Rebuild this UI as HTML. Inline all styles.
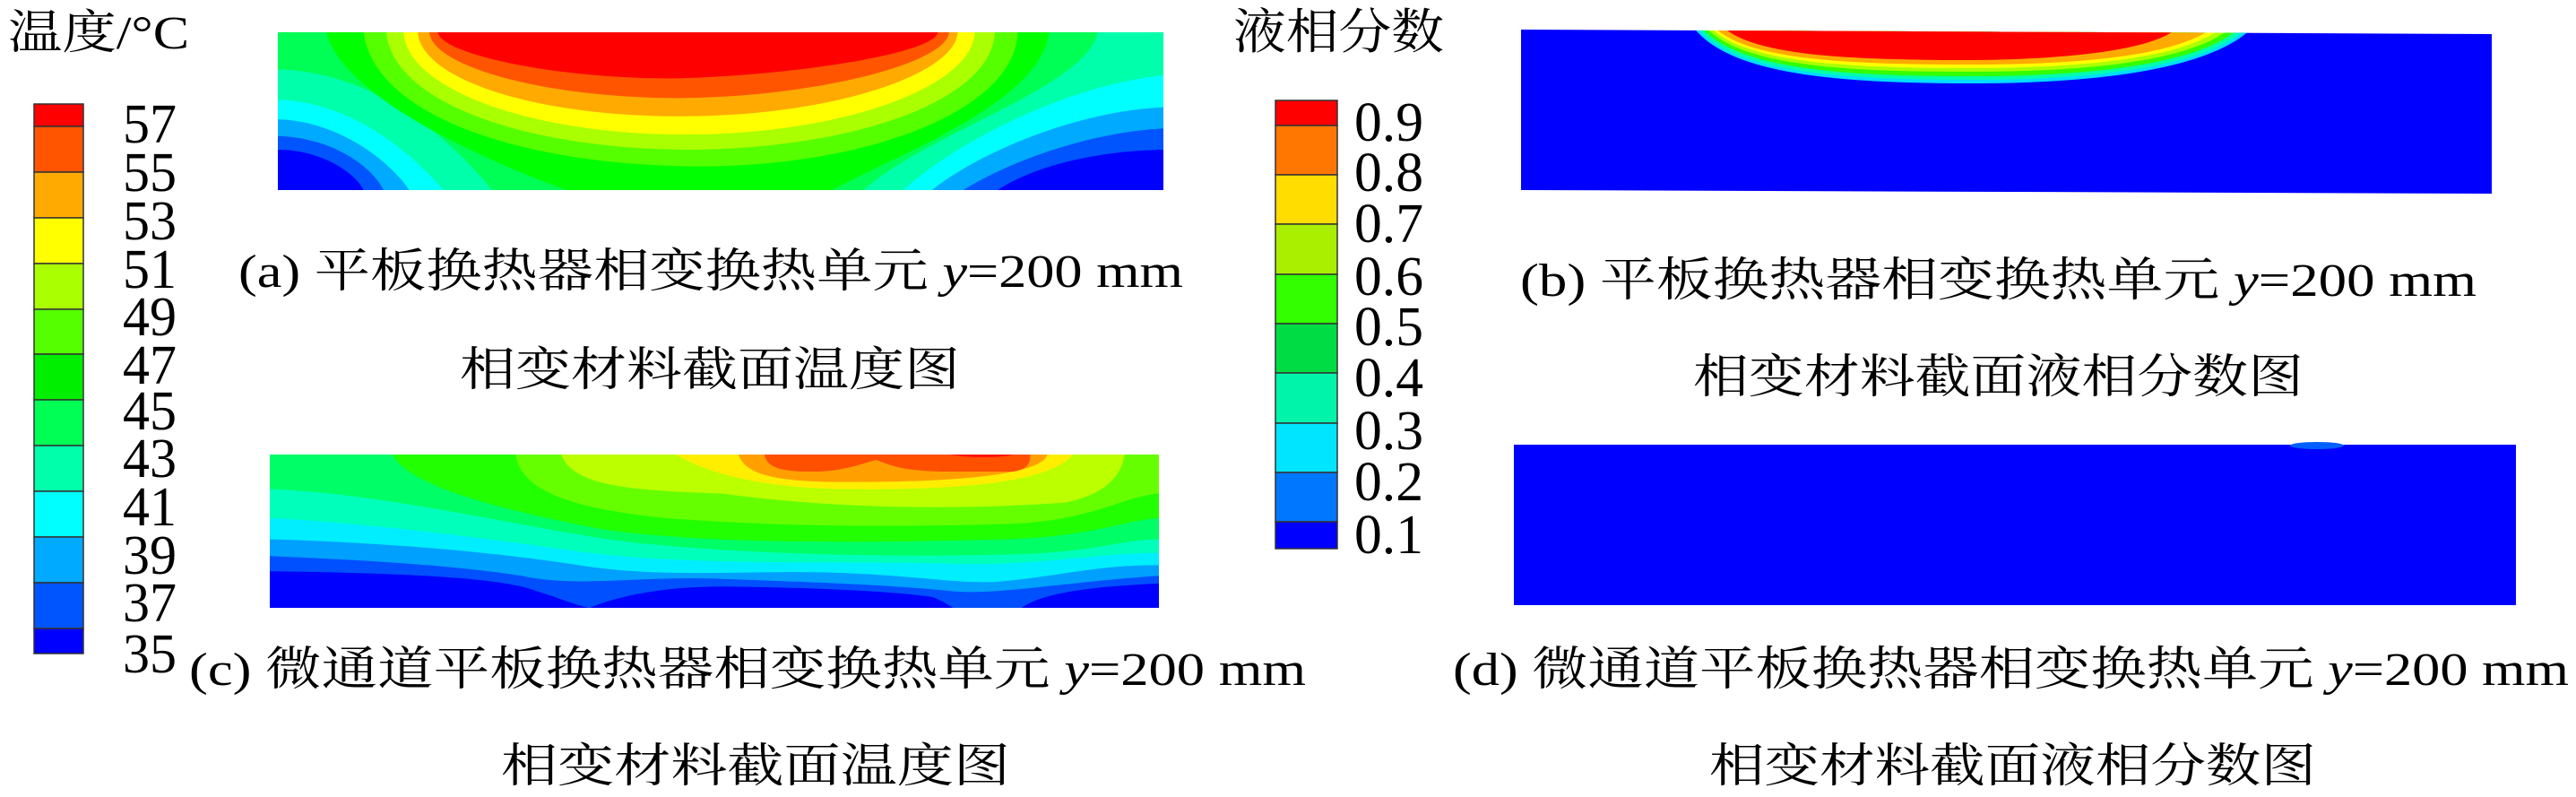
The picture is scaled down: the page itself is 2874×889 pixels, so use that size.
<!DOCTYPE html>
<html><head><meta charset="utf-8"><style>
html,body{margin:0;padding:0;background:#fff;}
</style></head><body>
<svg width="2874" height="884" viewBox="0 0 2874 884" xmlns="http://www.w3.org/2000/svg" font-family="'Liberation Serif', 'Times New Roman', 'Noto Serif CJK SC', serif">
<rect width="2874" height="884" fill="#fff"/>

<!-- Colorbar A -->
<g stroke="#333" stroke-width="1.5">
<rect x="38" y="116" width="55" height="25" fill="#ff0000"/>
<rect x="38" y="141" width="55" height="51" fill="#ff5500"/>
<rect x="38" y="192" width="55" height="51" fill="#ffaa00"/>
<rect x="38" y="243" width="55" height="51" fill="#ffff00"/>
<rect x="38" y="294" width="55" height="51" fill="#aaff00"/>
<rect x="38" y="345" width="55" height="50" fill="#55ff00"/>
<rect x="38" y="395" width="55" height="51" fill="#00ee00"/>
<rect x="38" y="446" width="55" height="51" fill="#00ff55"/>
<rect x="38" y="497" width="55" height="51" fill="#00ffaa"/>
<rect x="38" y="548" width="55" height="51" fill="#00ffff"/>
<rect x="38" y="599" width="55" height="51" fill="#00aaff"/>
<rect x="38" y="650" width="55" height="51" fill="#0055ff"/>
<rect x="38" y="701" width="55" height="28" fill="#0000ff"/>
</g>
<g font-size="62" font-family="Liberation Serif, serif">
<text x="137" y="159" textLength="60" lengthAdjust="spacingAndGlyphs">57</text>
<text x="137" y="213" textLength="60" lengthAdjust="spacingAndGlyphs">55</text>
<text x="137" y="267" textLength="60" lengthAdjust="spacingAndGlyphs">53</text>
<text x="137" y="321" textLength="60" lengthAdjust="spacingAndGlyphs">51</text>
<text x="137" y="374" textLength="60" lengthAdjust="spacingAndGlyphs">49</text>
<text x="137" y="428" textLength="60" lengthAdjust="spacingAndGlyphs">47</text>
<text x="137" y="479" textLength="60" lengthAdjust="spacingAndGlyphs">45</text>
<text x="137" y="532" textLength="60" lengthAdjust="spacingAndGlyphs">43</text>
<text x="137" y="586" textLength="60" lengthAdjust="spacingAndGlyphs">41</text>
<text x="137" y="640" textLength="60" lengthAdjust="spacingAndGlyphs">39</text>
<text x="137" y="693" textLength="60" lengthAdjust="spacingAndGlyphs">37</text>
<text x="137" y="750" textLength="60" lengthAdjust="spacingAndGlyphs">35</text>
</g>
<text x="9" y="54" font-size="52" textLength="202" lengthAdjust="spacingAndGlyphs">温度/°C</text>

<!-- Colorbar B -->
<g stroke="#333" stroke-width="1.5">
<rect x="1423" y="112" width="69" height="28" fill="#ff0000"/>
<rect x="1423" y="140" width="69" height="55" fill="#ff7700"/>
<rect x="1423" y="195" width="69" height="55" fill="#ffdd00"/>
<rect x="1423" y="250" width="69" height="56" fill="#aaee00"/>
<rect x="1423" y="306" width="69" height="55" fill="#33ff00"/>
<rect x="1423" y="361" width="69" height="55" fill="#00dd44"/>
<rect x="1423" y="416" width="69" height="56" fill="#00f5aa"/>
<rect x="1423" y="472" width="69" height="55" fill="#00e5ff"/>
<rect x="1423" y="527" width="69" height="55" fill="#0077ff"/>
<rect x="1423" y="582" width="69" height="30" fill="#0000ff"/>
</g>
<g font-size="62" font-family="Liberation Serif, serif">
<text x="1511" y="157" textLength="77" lengthAdjust="spacingAndGlyphs">0.9</text>
<text x="1511" y="213" textLength="77" lengthAdjust="spacingAndGlyphs">0.8</text>
<text x="1511" y="270" textLength="77" lengthAdjust="spacingAndGlyphs">0.7</text>
<text x="1511" y="329" textLength="77" lengthAdjust="spacingAndGlyphs">0.6</text>
<text x="1511" y="385" textLength="77" lengthAdjust="spacingAndGlyphs">0.5</text>
<text x="1511" y="442" textLength="77" lengthAdjust="spacingAndGlyphs">0.4</text>
<text x="1511" y="501" textLength="77" lengthAdjust="spacingAndGlyphs">0.3</text>
<text x="1511" y="558" textLength="77" lengthAdjust="spacingAndGlyphs">0.2</text>
<text x="1511" y="617" textLength="77" lengthAdjust="spacingAndGlyphs">0.1</text>
</g>
<text x="1376" y="54" font-size="54" textLength="235" lengthAdjust="spacingAndGlyphs">液相分数</text>

<!-- Panel A -->
<svg x="310" y="36" width="988" height="176" viewBox="15 18 1550 520" preserveAspectRatio="none">
<rect x="15" y="18" width="1550" height="520" fill="#00ffaa"/>
<path d="M15,140 C200,150 330,400 390,538 L1040,538 C1150,350 1430,200 1450,18 L15,18 Z" fill="#00ff55"/>
<path d="M15,240 C150,250 250,420 305,538 L15,538Z" fill="#00ffff"/>
<path d="M15,305 C120,310 210,440 245,538 L15,538Z" fill="#00aaff"/>
<path d="M15,360 C110,365 180,460 200,538 L15,538Z" fill="#0055ff"/>
<path d="M15,405 C90,405 150,480 165,538 L15,538Z" fill="#0000ff"/>
<path d="M1565,160 C1400,190 1200,380 1110,538 L1565,538Z" fill="#00ffff"/>
<path d="M1565,265 C1400,280 1230,430 1160,538 L1565,538Z" fill="#00aaff"/>
<path d="M1565,335 C1420,350 1280,460 1215,538 L1565,538Z" fill="#0055ff"/>
<path d="M1565,405 C1420,410 1320,480 1275,538 L1565,538Z" fill="#0000ff"/>
<path d="M100,18 C130,250 420,470 520,538 L985,538 C1100,420 1350,250 1365,18 Z" fill="#00ff00"/>
<path d="M165,18 C185,300 450,460 760,460 C1060,455 1305,270 1310,18Z" fill="#55ff00"/>
<path d="M205,18 C215,250 450,405 740,405 C1030,400 1265,240 1270,18Z" fill="#aaff00"/>
<path d="M235,18 C240,200 450,355 730,355 C1000,355 1230,200 1235,18Z" fill="#ffff00"/>
<path d="M260,18 C265,170 460,295 720,295 C980,295 1200,160 1205,18Z" fill="#ffaa00"/>
<path d="M280,18 C285,130 480,235 720,235 C960,230 1185,120 1190,18Z" fill="#ff5500"/>
<path d="M295,18 C300,90 500,170 700,170 C900,165 1165,90 1170,18Z" fill="#ff0000"/>
</svg>

<!-- Panel C -->
<svg x="301" y="507" width="992" height="171" viewBox="10 22 1555 503" preserveAspectRatio="none">
<rect x="10" y="22" width="1555" height="503" fill="#66ff00"/>
<path d="M520,22 C540,130 650,140 800,150 C1000,200 1200,205 1400,180 C1480,150 1500,80 1505,22Z" fill="#bbff00"/>
<path d="M720,22 C780,90 880,130 1000,135 C1200,140 1370,120 1415,22Z" fill="#ffee00"/>
<path d="M830,22 C840,90 900,110 1000,112 C1200,115 1360,90 1370,22Z" fill="#ffa000"/>
<path d="M875,22 C880,70 910,78 960,78 C1010,78 1040,55 1070,40 C1100,60 1120,78 1200,78 L1310,78 C1340,70 1340,40 1340,22Z" fill="#ff5000"/>
<path d="M1200,22 C1230,34 1290,34 1310,22Z" fill="#ff1000"/>
<path d="M440,22 C450,150 550,200 700,230 C900,260 1100,260 1300,250 C1450,240 1500,160 1565,150 L1565,525 L10,525 L10,22Z" fill="#22ff00"/>
<path d="M225,22 C250,120 400,200 600,270 C800,320 1100,310 1300,300 C1450,290 1500,240 1565,230 L1565,525 L10,525 L10,22Z" fill="#00ff66"/>
<path d="M10,135 C200,150 400,240 600,300 C800,350 1100,360 1300,350 C1450,345 1500,300 1565,300 L1565,525 L10,525Z" fill="#00ffbb"/>
<path d="M10,230 C200,250 400,300 550,340 C750,390 1000,370 1200,380 C1350,390 1450,345 1565,345 L1565,525 L10,525Z" fill="#00eeff"/>
<path d="M10,300 C200,310 400,340 550,385 C700,430 850,400 1000,410 C1150,420 1200,445 1280,440 C1400,420 1450,385 1565,385 L1565,525 L10,525Z" fill="#00a0ff"/>
<path d="M10,355 C200,370 350,390 450,420 C550,460 650,420 800,430 C950,440 1100,450 1200,470 C1280,485 1400,440 1565,420 L1565,525 L10,525Z" fill="#0050ff"/>
<path d="M10,405 C200,410 380,420 460,460 C520,495 550,520 570,525 L10,525Z" fill="#0000ff"/>
<path d="M570,525 C600,500 680,455 800,455 C950,458 1100,470 1170,490 C1190,505 1200,520 1205,525Z" fill="#0000ff"/>
<path d="M1325,525 C1360,475 1450,455 1565,445 L1565,525Z" fill="#0000ff"/>
</svg>

<!-- Panel B -->
<defs><clipPath id="pb"><polygon points="1697,33 2780,38 2780,216 1697,212"/></clipPath></defs>
<polygon points="1697,33 2780,38 2780,216 1697,212" fill="#0000ff"/>
<g clip-path="url(#pb)">
<path d="M1889,30 C1930,85 2060,93 2200,93 C2350,93 2470,75 2514,30Z" fill="#00ddff"/>
<path d="M1893,30 C1934,82 2060,89 2200,89 C2350,89 2465,72 2508,30Z" fill="#00ffaa"/>
<path d="M1898,30 C1938,78 2060,85 2200,85 C2350,85 2460,68 2500,30Z" fill="#33ff00"/>
<path d="M1903,30 C1942,74 2060,80 2200,80 C2350,80 2452,64 2490,30Z" fill="#aaff00"/>
<path d="M1908,30 C1946,70 2060,76 2200,76 C2350,76 2444,60 2480,30Z" fill="#ffff00"/>
<path d="M1912,30 C1950,67 2060,72 2200,72 C2350,72 2436,57 2470,30Z" fill="#ffaa00"/>
<path d="M1922,30 C1958,62 2060,67 2200,67 C2330,66 2410,52 2430,30Z" fill="#ff0000"/>
</g>

<!-- Panel D -->
<rect x="1689" y="496" width="1118" height="179" fill="#0000ff"/>
<ellipse cx="2585" cy="497" rx="30" ry="4" fill="#0060ff"/>

<!-- Captions -->
<g font-size="52">
<text x="266" y="320" textLength="1054" lengthAdjust="spacingAndGlyphs">(a) 平板换热器相变换热单元 <tspan font-style="italic">y</tspan>=200 mm</text>
<text x="513" y="430" textLength="558" lengthAdjust="spacingAndGlyphs">相变材料截面温度图</text>
<text x="211" y="764" textLength="1246" lengthAdjust="spacingAndGlyphs">(c) 微通道平板换热器相变换热单元 <tspan font-style="italic">y</tspan>=200 mm</text>
<text x="559" y="872" textLength="568" lengthAdjust="spacingAndGlyphs">相变材料截面温度图</text>
<text x="1696" y="330" textLength="1067" lengthAdjust="spacingAndGlyphs">(b) 平板换热器相变换热单元 <tspan font-style="italic">y</tspan>=200 mm</text>
<text x="1889" y="438" textLength="681" lengthAdjust="spacingAndGlyphs">相变材料截面液相分数图</text>
<text x="1621" y="764" textLength="1245" lengthAdjust="spacingAndGlyphs">(d) 微通道平板换热器相变换热单元 <tspan font-style="italic">y</tspan>=200 mm</text>
<text x="1907" y="872" textLength="677" lengthAdjust="spacingAndGlyphs">相变材料截面液相分数图</text>
</g>
</svg>
</body></html>
